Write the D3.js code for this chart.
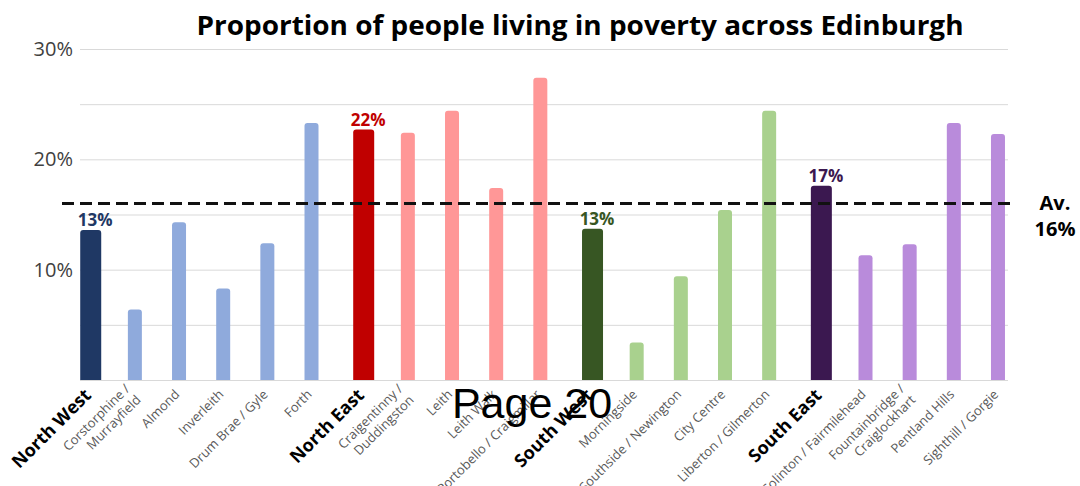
<!DOCTYPE html>
<html>
<head>
<meta charset="utf-8">
<style>
  body { margin: 0; background: #fff; }
  svg { display: block; font-family: "Open Sans", "Noto Sans", sans-serif; }
</style>
<script src="https://d3js.org/d3.v7.min.js"></script>
</head>
<body>
<script>
// data
const areas = ["North West", "Corstorphine /\nMurrayfield", "Almond", "Inverleith", "Drum Brae / Gyle", "Forth",
               "North East", "Craigentinny /\nDuddingston", "Leith", "Leith Walk", "Portobello / Craigmillar",
               "South West", "Morningside", "Southside / Newington", "City Centre", "Liberton / Gilmerton",
               "South East", "Colinton / Fairmilehead", "Fountainbridge /\nCraiglockhart", "Pentland Hills", "Sighthill / Gorgie"];
const region = ["NW","NW","NW","NW","NW","NW","NE","NE","NE","NE","NE","SW","SW","SW","SW","SW","SE","SE","SE","SE","SE"];
const isRegion = [1,0,0,0,0,0,1,0,0,0,0,1,0,0,0,0,1,0,0,0,0];
const poverty = [13.6, 6.4, 14.3, 8.3, 12.4, 23.3, 22.7, 22.4, 24.4, 17.4, 27.4, 13.7, 3.4, 9.4, 15.4, 24.4, 17.6, 11.3, 12.3, 23.3, 22.3];
const regionKeys = ["NW", "NE", "SW", "SE"];
const regionLabels = ["13%", "22%", "13%", "17%"];
const darkCol = ["#1f3864", "#c00000", "#375623", "#3b1850"];
const lightCol = ["#8faadc", "#ff9797", "#a9d18e", "#b98bdb"];
const average = 16;
const yTicks = [10, 20, 30];

const W = 1080, H = 486;
const svg = d3.select("body").append("svg").attr("width", W).attr("height", H);

const x = d3.scaleBand().domain(d3.range(areas.length)).range([80.7, 1008]);
const sub = d3.scaleBand().domain(regionKeys).range([-x.bandwidth()/2 + 6, x.bandwidth()/2 - 6]);
const y = d3.scaleLinear().domain([0, 30]).range([380, 49]);

// grid
svg.append("g").selectAll("line").data(d3.range(5, 31, 5)).join("line")
  .attr("x1", 80).attr("x2", 1008)
  .attr("y1", d => y(d) + 0.5).attr("y2", d => y(d) + 0.5)
  .attr("stroke", "#d9d9d9").attr("stroke-width", 1);
svg.append("line").attr("x1", 80).attr("x2", 1008).attr("y1", y(0) + 0.5).attr("y2", y(0) + 0.5)
  .attr("stroke", "#d9d9d9");

// y labels
svg.append("g").selectAll("text").data(yTicks).join("text")
  .attr("x", 73).attr("y", d => y(d)).attr("dy", "0.35em")
  .attr("text-anchor", "end").attr("font-size", 20).attr("fill", "#404040")
  .text(d => d + "%");

// bars with rounded tops
function barPath(x0, w, top, bottom, r) {
  return `M${x0},${bottom}V${top + r}Q${x0},${top} ${x0 + r},${top}H${x0 + w - r}Q${x0 + w},${top} ${x0 + w},${top + r}V${bottom}Z`;
}
const cx = i => x(i) + x.bandwidth() / 2 + sub(region[i]) + sub.bandwidth() / 2;
svg.append("g").selectAll("path").data(poverty).join("path")
  .attr("d", (d, i) => {
    const w = isRegion[i] ? 21 : 14;
    return barPath(cx(i) - w / 2, w, y(d), y(0), 3);
  })
  .attr("fill", (d, i) => {
    const k = regionKeys.indexOf(region[i]);
    return isRegion[i] ? darkCol[k] : lightCol[k];
  });

// region value labels
const regIdx = d3.range(areas.length).filter(i => isRegion[i]);
svg.append("g").selectAll("text").data(regIdx).join("text")
  .attr("x", i => cx(i) + 4.5).attr("y", i => y(poverty[i]) - 4)
  .attr("text-anchor", "middle").attr("font-size", 17).attr("font-weight", "bold")
  .attr("fill", (i, j) => darkCol[j])
  .text((i, j) => regionLabels[j]);

// average line
svg.append("line").attr("x1", 62).attr("x2", 1014)
  .attr("y1", y(average)).attr("y2", y(average))
  .attr("stroke", "#111").attr("stroke-width", 3).attr("stroke-dasharray", "12,6");
svg.append("text").attr("x", 1055).attr("y", 210).attr("text-anchor", "middle")
  .attr("font-size", 20).attr("font-weight", "bold").text("Av.");
svg.append("text").attr("x", 1055).attr("y", 236).attr("text-anchor", "middle")
  .attr("font-size", 20).attr("font-weight", "bold").text(average + "%");

// x labels
const xl = svg.append("g").selectAll("text").data(areas).join("text")
  .attr("transform", (d, i) => `translate(${cx(i) - (isRegion[i] ? 3 : 2)},392) rotate(-45)`)
  .attr("text-anchor", "end")
  .attr("font-size", (d, i) => isRegion[i] ? 18 : 13)
  .attr("font-weight", (d, i) => isRegion[i] ? "bold" : "normal")
  .attr("fill", (d, i) => isRegion[i] ? "#000" : "#595959");
xl.each(function(d) {
  const lines = d.split("\n");
  const t = d3.select(this);
  lines.forEach((ln, k) => {
    t.append("tspan").attr("x", 0)
      .attr("dy", k === 0 ? (lines.length === 1 ? "0.35em" : "-0.25em") : "1.2em")
      .text(ln);
  });
});

// title
svg.append("text").attr("x", 580).attr("y", 35).attr("text-anchor", "middle")
  .attr("font-size", 26).attr("font-weight", "bold")
  .attr("textLength", 767).attr("lengthAdjust", "spacingAndGlyphs")
  .text("Proportion of people living in poverty across Edinburgh");

// page number overlay
svg.append("text").attr("x", 532).attr("y", 418).attr("text-anchor", "middle")
  .attr("font-family", "Liberation Sans, Arial, sans-serif").attr("font-size", 43)
  .text("Page 20");
</script>
</body>
</html>
